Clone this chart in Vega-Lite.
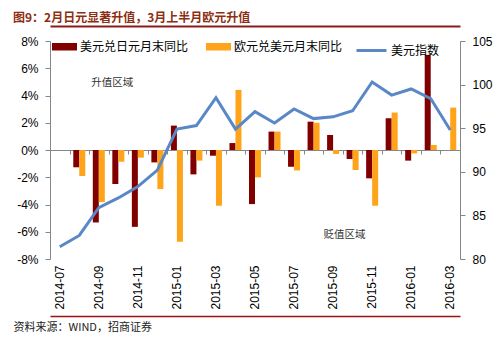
{
  "$schema": "https://vega.github.io/schema/vega-lite/v6.json",
  "width": 410,
  "height": 218,
  "autosize": {"type": "none"},
  "padding": {"left": 50, "top": 41, "right": 39, "bottom": 80},
  "background": "white",
  "title": {
    "text": "图9：2月日元显著升值，3月上半月欧元升值",
    "anchor": "start",
    "frame": "group",
    "dx": -37,
    "offset": 1,
    "font": "Noto Sans CJK SC",
    "fontSize": 12,
    "fontWeight": "bold",
    "color": "#8B2E12"
  },
  "config": {
    "view": {"stroke": null},
    "axis": {
      "grid": false,
      "labelFont": "Liberation Sans",
      "labelFontSize": 12,
      "labelColor": "#000000",
      "domainColor": "#868686",
      "tickColor": "#868686"
    }
  },
  "datasets": {
    "bars": [
      {"month": "2014-08", "series": "美元兑日元月末同比", "value": -1.27},
      {"month": "2014-08", "series": "欧元兑美元月末同比", "value": -1.91},
      {"month": "2014-09", "series": "美元兑日元月末同比", "value": -5.32},
      {"month": "2014-09", "series": "欧元兑美元月末同比", "value": -3.82},
      {"month": "2014-10", "series": "美元兑日元月末同比", "value": -2.5},
      {"month": "2014-10", "series": "欧元兑美元月末同比", "value": -0.86},
      {"month": "2014-11", "series": "美元兑日元月末同比", "value": -5.64},
      {"month": "2014-11", "series": "欧元兑美元月末同比", "value": -0.56},
      {"month": "2014-12", "series": "美元兑日元月末同比", "value": -0.91},
      {"month": "2014-12", "series": "欧元兑美元月末同比", "value": -2.87},
      {"month": "2015-01", "series": "美元兑日元月末同比", "value": 1.79},
      {"month": "2015-01", "series": "欧元兑美元月末同比", "value": -6.74},
      {"month": "2015-02", "series": "美元兑日元月末同比", "value": -1.79},
      {"month": "2015-02", "series": "欧元兑美元月末同比", "value": -0.78},
      {"month": "2015-03", "series": "美元兑日元月末同比", "value": -0.42},
      {"month": "2015-03", "series": "欧元兑美元月末同比", "value": -4.09},
      {"month": "2015-04", "series": "美元兑日元月末同比", "value": 0.51},
      {"month": "2015-04", "series": "欧元兑美元月末同比", "value": 4.41},
      {"month": "2015-05", "series": "美元兑日元月末同比", "value": -3.97},
      {"month": "2015-05", "series": "欧元兑美元月末同比", "value": -2.01},
      {"month": "2015-06", "series": "美元兑日元月末同比", "value": 1.35},
      {"month": "2015-06", "series": "欧元兑美元月末同比", "value": 1.35},
      {"month": "2015-07", "series": "美元兑日元月末同比", "value": -1.23},
      {"month": "2015-07", "series": "欧元兑美元月末同比", "value": -1.5},
      {"month": "2015-08", "series": "美元兑日元月末同比", "value": 2.08},
      {"month": "2015-08", "series": "欧元兑美元月末同比", "value": 2.0},
      {"month": "2015-09", "series": "美元兑日元月末同比", "value": 1.1},
      {"month": "2015-09", "series": "欧元兑美元月末同比", "value": -0.29},
      {"month": "2015-10", "series": "美元兑日元月末同比", "value": -0.66},
      {"month": "2015-10", "series": "欧元兑美元月末同比", "value": -1.47},
      {"month": "2015-11", "series": "美元兑日元月末同比", "value": -2.08},
      {"month": "2015-11", "series": "欧元兑美元月末同比", "value": -4.09},
      {"month": "2015-12", "series": "美元兑日元月末同比", "value": 2.33},
      {"month": "2015-12", "series": "欧元兑美元月末同比", "value": 2.75},
      {"month": "2016-01", "series": "美元兑日元月末同比", "value": -0.78},
      {"month": "2016-01", "series": "欧元兑美元月末同比", "value": -0.25},
      {"month": "2016-02", "series": "美元兑日元月末同比", "value": 6.98},
      {"month": "2016-02", "series": "欧元兑美元月末同比", "value": 0.37},
      {"month": "2016-03", "series": "欧元兑美元月末同比", "value": 3.11}
    ],
    "idx": [
      {"month": "2014-07", "index": 81.4},
      {"month": "2014-08", "index": 82.7},
      {"month": "2014-09", "index": 85.9},
      {"month": "2014-10", "index": 87.0},
      {"month": "2014-11", "index": 88.3},
      {"month": "2014-12", "index": 90.2},
      {"month": "2015-01", "index": 94.9},
      {"month": "2015-02", "index": 95.3},
      {"month": "2015-03", "index": 98.5},
      {"month": "2015-04", "index": 94.9},
      {"month": "2015-05", "index": 96.9},
      {"month": "2015-06", "index": 95.6},
      {"month": "2015-07", "index": 97.2},
      {"month": "2015-08", "index": 96.1},
      {"month": "2015-09", "index": 96.3},
      {"month": "2015-10", "index": 97.0},
      {"month": "2015-11", "index": 100.3},
      {"month": "2015-12", "index": 98.8},
      {"month": "2016-01", "index": 99.5},
      {"month": "2016-02", "index": 98.4},
      {"month": "2016-03", "index": 94.8}
    ]
  },
  "layer": [
    {
      "data": {"name": "bars"},
      "mark": {"type": "bar"},
      "encoding": {
        "x": {
          "field": "month",
          "type": "nominal",
          "scale": {
            "domain": ["2014-07","2014-08","2014-09","2014-10","2014-11","2014-12","2015-01","2015-02","2015-03","2015-04","2015-05","2015-06","2015-07","2015-08","2015-09","2015-10","2015-11","2015-12","2016-01","2016-02","2016-03"],
            "paddingInner": 0,
            "paddingOuter": 0
          },
          "axis": {
            "orient": "bottom",
            "domain": false,
            "ticks": false,
            "tickSize": 0,
            "labelAngle": -90,
            "labelPadding": 6,
            "labelOverlap": false,
            "labelExpr": "toNumber(slice(datum.value, 5)) % 2 == 1 ? datum.value : ''",
            "title": "资料来源：WIND，招商证券",
            "titleFont": "Noto Sans CJK SC",
            "titleFontSize": 11,
            "titleFontWeight": "normal",
            "titleColor": "#222222",
            "titleAngle": 0,
            "titleAlign": "left",
            "titleBaseline": "middle",
            "titleX": -37,
            "titleY": 68
          }
        },
        "xOffset": {
          "field": "series",
          "type": "nominal",
          "scale": {"domain": ["美元兑日元月末同比", "欧元兑美元月末同比"], "paddingInner": 0, "paddingOuter": 0.625}
        },
        "y": {
          "field": "value",
          "type": "quantitative",
          "scale": {"domain": [-8, 8], "nice": false, "zero": false},
          "axis": {
            "orient": "left",
            "values": [-8, -6, -4, -2, 0, 2, 4, 6, 8],
            "labelExpr": "datum.value + '%'",
            "tickSize": 5,
            "labelPadding": 7,
            "title": null
          }
        },
        "color": {
          "field": "series",
          "type": "nominal",
          "scale": {"domain": ["美元兑日元月末同比", "欧元兑美元月末同比"], "range": ["#800000", "#FFA31A"]},
          "legend": {
            "orient": "none",
            "legendX": 2,
            "legendY": -7,
            "direction": "horizontal",
            "title": null,
            "symbolType": "M-1,-0.3H1V0.3H-1Z",
            "symbolSize": 625,
            "symbolStrokeWidth": 0,
            "labelFont": "Noto Sans CJK SC",
            "labelFontSize": 12,
            "labelColor": "#000000",
            "labelOffset": 3,
            "columnPadding": 17,
            "padding": 0
          }
        }
      }
    },
    {
      "data": {"name": "idx"},
      "mark": {"type": "line", "strokeWidth": 3},
      "encoding": {
        "x": {
          "field": "month",
          "type": "nominal",
          "axis": {
            "orient": "bottom",
            "offset": -109,
            "labels": false,
            "ticks": true,
            "tickBand": "extent",
            "tickSize": 4,
            "domain": true,
            "title": null
          }
        },
        "y": {
          "field": "index",
          "type": "quantitative",
          "scale": {"domain": [80, 105], "nice": false, "zero": false},
          "axis": {
            "orient": "right",
            "values": [80, 85, 90, 95, 100, 105],
            "tickSize": 5,
            "labelPadding": 7,
            "title": null
          }
        },
        "stroke": {
          "datum": "美元指数",
          "type": "nominal",
          "scale": {"range": ["#5A87C6"]},
          "legend": {
            "orient": "none",
            "legendX": 305,
            "legendY": -7,
            "title": null,
            "symbolType": "stroke",
            "symbolSize": 900,
            "symbolStrokeWidth": 3,
            "labelFont": "Noto Sans CJK SC",
            "labelFontSize": 12,
            "labelColor": "#000000",
            "labelOffset": 3,
            "padding": 0
          }
        }
      }
    },
    {
      "data": {"values": [{"month": "2015-10", "value": -6.25, "note": "贬值区域"}]},
      "mark": {"type": "text", "font": "Noto Sans CJK SC", "fontSize": 10.5, "dx": -8, "color": "#333333"},
      "encoding": {
        "x": {
          "field": "month",
          "type": "nominal",
          "axis": {"orient": "bottom", "offset": 57, "labels": false, "ticks": false, "domain": true, "domainColor": "#A01010", "domainWidth": 1.5, "domainOpacity": 1, "zindex": 2, "title": null}
        },
        "y": {"field": "value", "type": "quantitative", "scale": {"domain": [-8, 8], "nice": false, "zero": false}, "axis": null},
        "text": {"field": "note"}
      }
    },
    {
      "data": {"values": [{"month": "2014-10", "value": 4.9, "note": "升值区域"}]},
      "mark": {"type": "text", "font": "Noto Sans CJK SC", "fontSize": 10.5, "dx": -6, "color": "#333333"},
      "encoding": {
        "x": {
          "field": "month",
          "type": "nominal",
          "axis": {"orient": "top", "offset": 15, "labels": false, "ticks": false, "domain": true, "domainColor": "#8B1C1C", "domainWidth": 2, "domainOpacity": 1, "zindex": 2, "title": null}
        },
        "y": {
          "field": "value",
          "type": "quantitative",
          "scale": {"domain": [-8, 8], "nice": false, "zero": false},
          "axis": {"orient": "left", "values": [9.1], "grid": true, "gridColor": "#8B1C1C", "gridWidth": 1.5, "gridOpacity": 1, "labels": false, "ticks": false, "domain": false, "zindex": 2, "title": null}
        },
        "text": {"field": "note"}
      }
    }
  ],
  "resolve": {"scale": {"y": "independent"}, "axis": {"x": "independent", "y": "independent"}}
}
